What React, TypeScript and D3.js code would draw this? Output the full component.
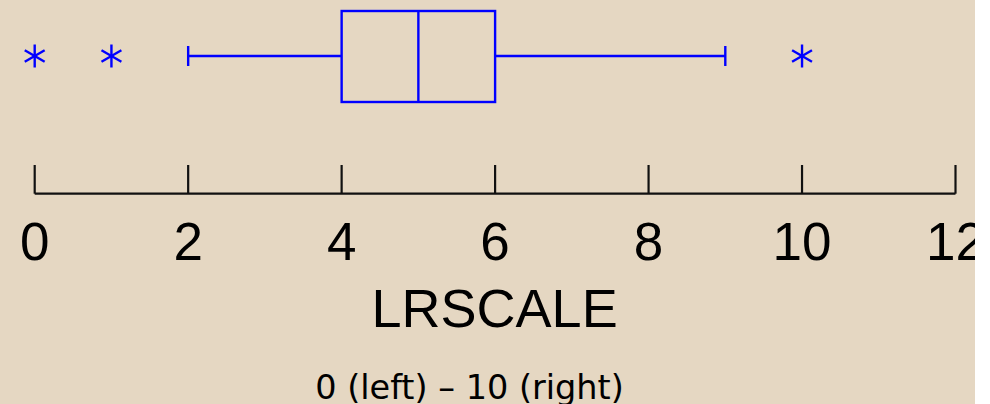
import React from "react";
import * as d3 from "d3";

// Five-number summary and outliers for LRSCALE
const boxStats = [{ lowWhisker: 2, q1: 4, median: 5, q3: 6, highWhisker: 9 }];
const outliers = [0, 1, 10];
const tickValues = [0, 2, 4, 6, 8, 10, 12];
const axisTitle = "LRSCALE";
const subtitle = "0 (left) \u2013 10 (right)";

const W = 975;
const H = 404;
const BG = "#E5D7C2";
const BLUE = "#0000FF";

export default function App() {
  const x = d3.scaleLinear().domain([0, 12]).range([34.7, 955.5]);
  const cy = 56;
  const boxTop = 11;
  const boxBottom = 102;
  const capHalf = 10;
  const axisY = 193.7;
  const tickLen = 28.7;
  const s = boxStats[0];

  const starArm = 11.5;
  const starAngles = [90, 30, 150];

  return (
    <div style={{ position: "fixed", left: 0, top: 0, width: 990, height: H, background: "#fff" }}>
      <svg width={W} height={H} style={{ display: "block", overflow: "hidden" }}>
        <rect x={0} y={0} width={W} height={H} fill={BG} />

        {/* whiskers and box */}
        <g stroke={BLUE} strokeWidth={2.4} fill="none">
          <line x1={x(s.lowWhisker)} x2={x(s.q1)} y1={cy} y2={cy} />
          <line x1={x(s.q3)} x2={x(s.highWhisker)} y1={cy} y2={cy} />
          <line x1={x(s.lowWhisker)} x2={x(s.lowWhisker)} y1={cy - capHalf} y2={cy + capHalf} />
          <line x1={x(s.highWhisker)} x2={x(s.highWhisker)} y1={cy - capHalf} y2={cy + capHalf} />
          <rect x={x(s.q1)} y={boxTop} width={x(s.q3) - x(s.q1)} height={boxBottom - boxTop} />
          <line x1={x(s.median)} x2={x(s.median)} y1={boxTop} y2={boxBottom} />
        </g>

        {/* outliers as asterisks */}
        <g stroke={BLUE} strokeWidth={2.4}>
          {outliers.map((v, i) => (
            <g key={i} transform={`translate(${x(v)},${cy})`}>
              {starAngles.map((a) => {
                const r = (a * Math.PI) / 180;
                const dx = Math.cos(r) * starArm;
                const dy = Math.sin(r) * starArm;
                return <line key={a} x1={-dx} y1={-dy} x2={dx} y2={dy} />;
              })}
            </g>
          ))}
        </g>

        {/* axis */}
        <g stroke="#111" strokeWidth={2.2}>
          <line x1={x(0)} x2={x(12)} y1={axisY} y2={axisY} />
          {tickValues.map((t) => (
            <line key={t} x1={x(t)} x2={x(t)} y1={axisY - tickLen} y2={axisY} />
          ))}
        </g>
        <g fontFamily="Liberation Sans, Arial, sans-serif" fontSize={53} fill="#000" textAnchor="middle">
          {tickValues.map((t) => (
            <text key={t} x={x(t)} y={260}>
              {t}
            </text>
          ))}
          <text x={(x(0) + x(12)) / 2 - 0.5} y={327} fontSize={54}>
            {axisTitle}
          </text>
        </g>
        <text
          x={469.5}
          y={399}
          textAnchor="middle"
          fontFamily="DejaVu Sans, Verdana, sans-serif"
          fontSize={33.5}
          fill="#000"
        >
          {subtitle}
        </text>
      </svg>
    </div>
  );
}
